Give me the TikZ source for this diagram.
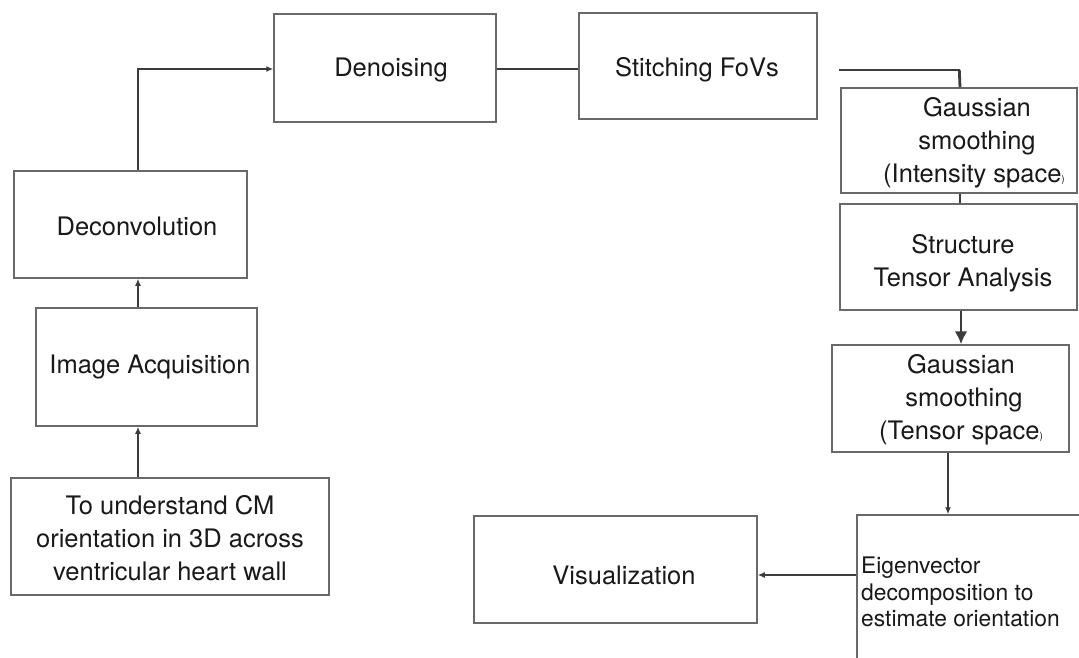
\documentclass[tikz,border=0pt]{standalone}
\usepackage{fontspec}
\setmainfont{TeX Gyre Heros}
\usetikzlibrary{arrows.meta}
\definecolor{boxline}{RGB}{105,105,105}
\definecolor{conn}{RGB}{60,60,60}
\definecolor{txt}{RGB}{25,25,25}
\begin{document}
\begin{tikzpicture}[x=1pt,y=-1pt,
  box/.style={draw=boxline,line width=1.5pt,inner sep=0pt,minimum width=#1},
  lbl/.style={text=txt,font=\fontsize{25.5}{33}\selectfont,align=center,inner sep=0pt},
  con/.style={draw=conn,line width=1.5pt},
  tip/.style={-{Latex[length=7pt,width=6pt]}},
  bigtip/.style={-{Latex[length=13pt,width=13pt]}}]
\useasboundingbox (0,0) rectangle (1079,658);
\clip (0,0) rectangle (1079,658);
\fill[white] (0,0) rectangle (1079,658);
% boxes
\node[box=222pt,minimum height=108pt] (den) at (385,68) {};
\node[box=238pt,minimum height=106pt] (sti) at (698,66) {};
\node[box=236pt,minimum height=105pt] (ga1) at (959,140.5) {};
\node[box=237pt,minimum height=106pt] (str) at (958.5,257) {};
\node[box=237pt,minimum height=107pt] (ga2) at (950.5,398.5) {};
\node[box=240pt,minimum height=160pt] (eig) at (977,595) {};
\node[box=283pt,minimum height=107pt] (vis) at (615.5,569.5) {};
\node[box=233pt,minimum height=107pt] (dec) at (130.5,224.5) {};
\node[box=221pt,minimum height=118pt] (img) at (146.5,367) {};
\node[box=318pt,minimum height=117pt] (bot) at (170,536.5) {};
% labels
\node[lbl] (tden) at (391,70) {Denoising};
\node[lbl] (tsti) at (697,70) {Stitching FoVs};
\node[lbl] (tga1) at (974,143) {\hspace*{6pt}Gaussian\\\hspace*{6pt}smoothing\\(Intensity space{\fontsize{10}{12}\selectfont)}};
\node[lbl] (tstr) at (963,263) {Structure\\Tensor Analysis};
\node[lbl] (tga2) at (961,400) {Gaussian\\\hspace*{6pt}smoothing\\(Tensor space{\fontsize{10}{12}\selectfont)}};
\node[lbl,font=\fontsize{22.8}{26.5}\selectfont,align=left,anchor=west] (teig) at (861,592) {Eigenvector\\decomposition to\\estimate orientation};
\node[lbl] (tvis) at (624,575) {Visualization};
\node[lbl] (tdec) at (137,226) {Deconvolution};
\node[lbl] (timg) at (150,367) {Image Acquisition};
\node[lbl] (tbot) at (170,538) {To understand CM\\orientation in 3D across\\ventricular heart wall};
% connectors
\coordinate (stem) at (138,0);
\coordinate (sgo) at (839,70);
\coordinate (rcol) at (960,0);
\coordinate (visin) at ([yshift=-5.5pt]vis.east);
\draw[con,tip] (bot.north -| stem) -- (img.south -| stem);
\draw[con,tip] (img.north -| stem) -- (dec.south -| stem);
\draw[con,tip] (dec.north -| stem) |- ([yshift=-1pt]den.west);
\draw[con] ([yshift=-1pt]den.east) -- ([yshift=-1pt]den.east -| sti.west);
\draw[con] (sgo) -- (sgo -| rcol);
\draw[con,line width=2.8pt] ([xshift=-0.7pt]sgo -| rcol) -- (ga1.north -| rcol);
\draw[con,line width=2.8pt] (ga1.south -| rcol) -- (str.north -| rcol);
\draw[con,line width=2.6pt,bigtip] ([xshift=2.5pt]str.south) -- ([xshift=2.5pt]str.south |- ga2.north);
\draw[con,tip] ([xshift=-2.5pt]ga2.south) -- ([xshift=-2.5pt]ga2.south |- eig.north);
\draw[con,tip] (eig.west |- visin) -- (visin);
\end{tikzpicture}
\end{document}
